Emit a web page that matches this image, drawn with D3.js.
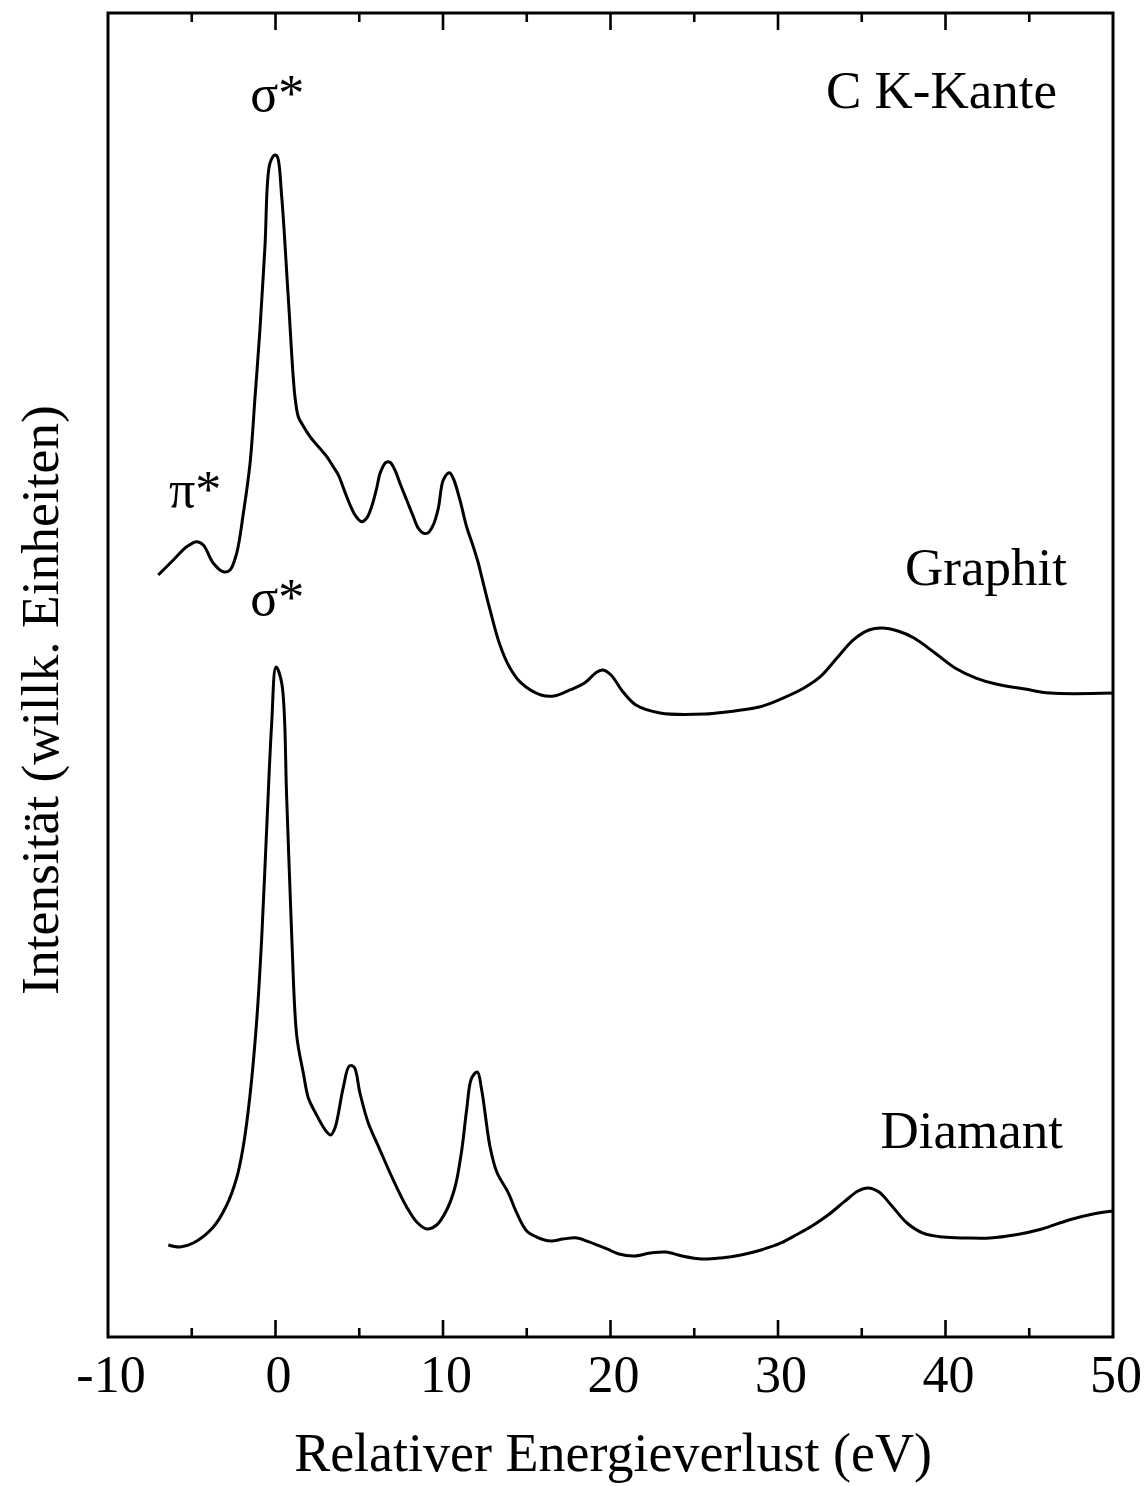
<!DOCTYPE html>
<html>
<head>
<meta charset="utf-8">
<script src="https://cdn.jsdelivr.net/npm/d3@7"></script>
<style>
  html, body { margin: 0; padding: 0; background: #fff; }
  svg text { font-family: "Liberation Serif", "Times New Roman", serif; fill: #000; }
</style>
</head>
<body>
<svg id="chart" width="1147" height="1486"></svg>
<script>
// Energy-loss axis (eV) and intensity (arbitrary units, 0–100 across the frame)
const xTicksMajor = [-10, 0, 10, 20, 30, 40, 50];
const xTicksMinor = [-5, 5, 15, 25, 35, 45];

// C K-edge, graphite
const graphitE = [-7.00, -6.10, -5.30, -4.70, -4.31, -3.71, -3.12, -2.72, -2.32, -1.92, -1.52, -1.22, -0.93, -0.63, -0.33, -0.03, 0.11, 0.37, 0.76, 1.16, 1.36, 1.56, 2.06, 3.06, 3.45, 3.75, 4.25, 4.75, 5.15, 5.44, 5.74, 6.04, 6.24, 6.60, 6.84, 7.13, 7.43, 7.83, 8.23, 8.53, 8.87, 9.12, 9.42, 9.72, 10.02, 10.38, 10.61, 11.01, 11.41, 11.81, 12.11, 12.31, 12.81, 13.40, 14.00, 14.66, 15.85, 16.63, 17.58, 18.45, 19.19, 19.55, 20.03, 20.75, 21.52, 22.96, 25.64, 26.90, 28.87, 30.30, 31.55, 32.51, 33.52, 34.48, 35.43, 36.21, 37.16, 38.12, 39.37, 40.57, 41.82, 43.01, 44.75, 46.24, 50.00];
const graphitI = [57.55, 58.69, 59.69, 60.07, 59.82, 58.44, 57.80, 57.93, 59.19, 62.21, 65.99, 71.02, 76.06, 82.35, 88.65, 89.27, 89.15, 86.13, 78.57, 71.02, 69.51, 69.01, 68.00, 66.49, 65.73, 65.11, 63.47, 62.08, 61.58, 61.84, 62.71, 64.10, 65.23, 66.06, 66.06, 65.48, 64.48, 63.22, 61.96, 61.08, 60.70, 60.75, 61.33, 62.59, 64.73, 65.28, 64.86, 63.22, 61.20, 59.69, 58.44, 57.42, 54.91, 52.27, 50.53, 49.40, 48.49, 48.41, 48.87, 49.40, 50.23, 50.38, 50.00, 48.72, 47.73, 47.13, 47.05, 47.21, 47.58, 48.26, 49.02, 49.85, 51.28, 52.64, 53.40, 53.55, 53.32, 52.79, 51.66, 50.53, 49.77, 49.32, 48.94, 48.64, 48.64];

// C K-edge, diamond
const diamantE = [-6.40, -5.70, -4.91, -3.71, -2.91, -2.32, -1.92, -1.52, -1.12, -0.82, -0.53, -0.23, 0.03, 0.37, 0.67, 0.97, 1.27, 1.66, 1.96, 2.36, 3.06, 3.30, 3.55, 4.05, 4.41, 4.69, 5.04, 5.54, 6.24, 7.03, 7.83, 8.43, 9.03, 9.62, 10.22, 10.72, 11.12, 11.41, 11.71, 12.05, 12.31, 12.81, 13.21, 13.90, 14.40, 15.00, 15.59, 16.45, 17.16, 18.00, 18.72, 19.79, 20.51, 21.40, 22.36, 23.31, 24.27, 25.46, 26.60, 27.79, 28.99, 30.18, 31.07, 32.03, 32.99, 33.94, 34.78, 35.37, 36.03, 36.75, 37.70, 38.66, 39.85, 41.22, 42.66, 44.09, 45.76, 47.37, 48.81, 50.00];
const diamantI = [6.95, 6.80, 7.10, 8.31, 9.97, 12.01, 14.43, 18.28, 23.94, 30.21, 38.29, 46.30, 50.60, 49.40, 40.63, 30.21, 22.73, 19.94, 18.05, 16.99, 15.48, 15.26, 15.79, 18.88, 20.47, 20.39, 18.43, 16.16, 14.12, 11.86, 9.82, 8.69, 8.16, 8.46, 9.59, 11.33, 14.12, 17.15, 19.56, 20.02, 18.66, 14.35, 12.46, 10.88, 9.37, 8.01, 7.55, 7.25, 7.40, 7.48, 7.18, 6.65, 6.27, 6.12, 6.34, 6.42, 6.12, 5.89, 5.97, 6.19, 6.57, 7.10, 7.70, 8.38, 9.21, 10.20, 11.03, 11.25, 10.95, 9.97, 8.61, 7.85, 7.55, 7.48, 7.48, 7.70, 8.16, 8.84, 9.29, 9.52];

// Annotations: [text, energy, intensity]
const peakLabels = [
  ["σ*", 0.1, 92.6],
  ["π*", -4.8, 62.7],
  ["σ*", 0.1, 54.5]
];
// right edge energy of each label
const seriesLabels = [
  ["C K-Kante", 46.66, 92.8],
  ["Graphit", 47.25, 56.8],
  ["Diamant", 47.01, 14.3]
];
const xTitle = "Relativer Energieverlust (eV)";
const yTitle = "Intensität (willk. Einheiten)";

const svg = d3.select("#chart");
const plotLeft = 108, plotRight = 1113, plotTop = 13, plotBottom = 1337;

const x = d3.scaleLinear().domain([-10, 50]).range([plotLeft, plotRight]);
const y = d3.scaleLinear().domain([0, 100]).range([plotBottom, plotTop]);

const fontSize = 52;

// frame
svg.append("rect")
  .attr("x", plotLeft).attr("y", plotTop)
  .attr("width", plotRight - plotLeft).attr("height", plotBottom - plotTop)
  .attr("fill", "none").attr("stroke", "#000").attr("stroke-width", 3);

// inward ticks on bottom and top edges
const tickMajor = 17, tickMinor = 9;
function drawTicks(vals, len) {
  const g = svg.append("g").attr("stroke", "#000").attr("stroke-width", 2.6);
  g.append("g").selectAll("line").data(vals).join("line")
    .attr("x1", d => x(d)).attr("x2", d => x(d))
    .attr("y1", plotBottom).attr("y2", plotBottom - len);
  g.append("g").selectAll("line").data(vals).join("line")
    .attr("x1", d => x(d)).attr("x2", d => x(d))
    .attr("y1", plotTop).attr("y2", plotTop + len);
}
drawTicks(xTicksMajor.filter(d => d > -10 && d < 50), tickMajor);
drawTicks(xTicksMinor, tickMinor);

// tick labels
svg.append("g").selectAll("text").data(xTicksMajor).join("text")
  .attr("x", d => x(d) + 3)
  .attr("y", plotBottom + 55)
  .attr("text-anchor", "middle")
  .attr("font-size", fontSize)
  .text(d => d);

// axis titles
svg.append("text")
  .attr("x", 613)
  .attr("y", 1471)
  .attr("text-anchor", "middle")
  .attr("font-size", 54)
  .text(xTitle);

svg.append("text")
  .attr("transform", `translate(58, 700) rotate(-90)`)
  .attr("text-anchor", "middle")
  .attr("font-size", 53.5)
  .text(yTitle);

// spectra
const line = d3.line()
  .x(d => x(d[0]))
  .y(d => y(d[1]))
  .curve(d3.curveCatmullRom.alpha(0.5));

const graphit = graphitE.map((e, i) => [e, graphitI[i]]);
const diamant = diamantE.map((e, i) => [e, diamantI[i]]);

[graphit, diamant].forEach(s => {
  svg.append("path")
    .datum(s)
    .attr("d", line)
    .attr("fill", "none")
    .attr("stroke", "#000")
    .attr("stroke-width", 3)
    .attr("stroke-linejoin", "round");
});

// peak labels
svg.append("g").selectAll("text").data(peakLabels).join("text")
  .attr("x", d => x(d[1]))
  .attr("y", d => y(d[2]))
  .attr("text-anchor", "middle")
  .attr("font-size", fontSize)
  .text(d => d[0]);

// series labels, right-aligned
svg.append("g").selectAll("text").data(seriesLabels).join("text")
  .attr("x", d => x(d[1]))
  .attr("y", d => y(d[2]))
  .attr("text-anchor", "end")
  .attr("font-size", 53)
  .text(d => d[0]);
</script>
</body>
</html>
